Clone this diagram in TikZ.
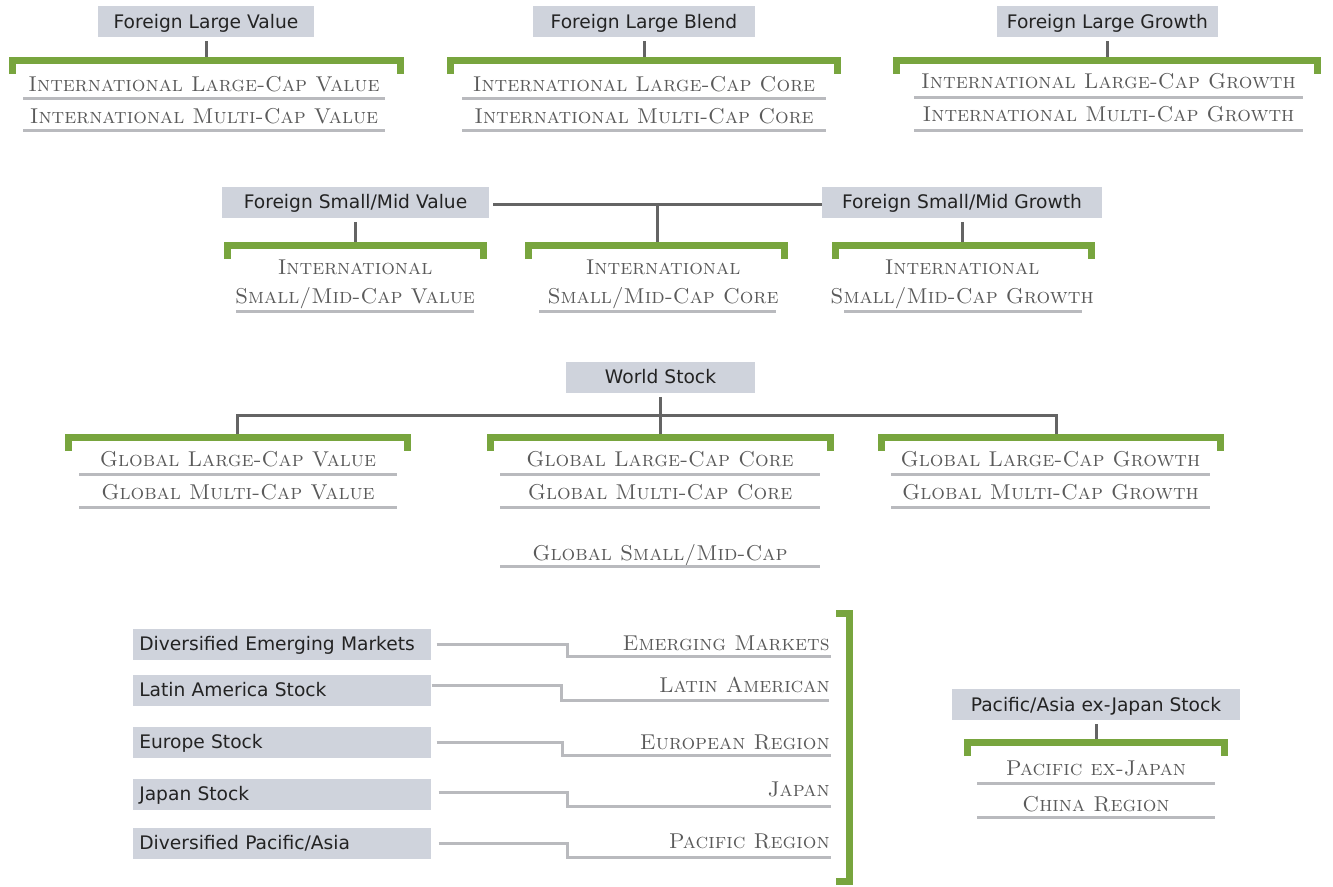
\documentclass[tikz,border=0pt]{standalone}
\usepackage{fontspec}
\newfontfamily\boxfont{DejaVu Sans}
\definecolor{boxgray}{RGB}{207,211,220}
\definecolor{boxtext}{RGB}{35,35,35}
\definecolor{sctext}{RGB}{90,90,90}
\definecolor{brkgreen}{RGB}{120,165,62}
\definecolor{conngray}{RGB}{100,100,100}
\definecolor{linegray}{RGB}{185,186,190}

\tikzset{
  graybox/.style={fill=boxgray, inner sep=0pt, text height=12.8pt, text depth=3pt,
    minimum height=23.25pt, font=\boxfont\fontsize{14}{16}\selectfont, text=boxtext},
  leftbox/.style={graybox, anchor=west, text width=214.5pt, align=left, inner xsep=4.5pt},
  sclabel/.style={inner sep=0pt, anchor=base, font=\fontsize{16.1}{19}\selectfont\scshape, text=sctext},
  rlabel/.style={sclabel, anchor=base east},
  conn/.style={draw=conngray, line width=2.25pt},
  uline/.style={draw=linegray, line width=2.25pt},
  lconn/.style={uline, line join=miter},
  brk/.style={draw=brkgreen, line width=5.25pt, line join=miter},
}

% green bracket: name, left x, right x, y of top bar, y of tick ends
\newcommand\greenbracket[5]{%
  \draw[brk] ({#2+3.5},#5) -- ({#2+3.5},#4) -- ({#3-3.5},#4) -- ({#3-3.5},#5);
  \coordinate (#1) at ({(#2+#3)/2},{#4-3.5});}
% grey rule under a category name: left x, right x, y
\newcommand\underrule[3]{\draw[uline] (#1,#3) -- (#2,#3);}

\begin{document}
\begin{tikzpicture}[x=0.75pt,y=-0.75pt]
\useasboundingbox (0,0) rectangle (1333,886);

% ---------- foreign large ----------
\node[graybox, minimum width=162pt]    (flv) at (206,21.5)   {Foreign Large Value};
\node[graybox, minimum width=166.5pt]  (flb) at (644,21.5)   {Foreign Large Blend};
\node[graybox, minimum width=165.75pt] (flg) at (1107.5,21.5) {Foreign Large Growth};

\greenbracket{b1}{9}{404}{60.5}{74}
\greenbracket{b2}{447}{841}{60.5}{74}
\greenbracket{b3}{893}{1321}{60.5}{74}

\draw[conn, shorten <=3pt] (flv) -- (flv |- b1);
\draw[conn, shorten <=3pt] (flb) -- (flb |- b2);
\draw[conn, shorten <=3pt] (flg) -- (flg |- b3);

\node[sclabel] (ilv) at (204,91)    {International Large-Cap Value};
\node[sclabel] (imv) at (204,123.5) {International Multi-Cap Value};
\underrule{23}{385}{98}
\underrule{23}{385}{130.5}
\node[sclabel] (ilc) at (644,91)    {International Large-Cap Core};
\node[sclabel] (imc) at (644,123.5) {International Multi-Cap Core};
\underrule{462}{826}{98}
\underrule{462}{826}{130.5}
\node[sclabel] (ilg) at (1108.5,88)  {International Large-Cap Growth};
\node[sclabel] (img) at (1108.5,121) {International Multi-Cap Growth};
\underrule{914}{1303}{97}
\underrule{914}{1303}{130}

% ---------- foreign small/mid ----------
\node[graybox, minimum width=200.25pt] (fsv) at (355.5,202) {Foreign Small/Mid Value};
\node[graybox, minimum width=210pt]    (fsg) at (962,202)   {Foreign Small/Mid Growth};
\coordinate (j2) at (657,204);

\greenbracket{b4}{224}{487}{245}{259}
\greenbracket{b5}{525}{788}{245}{259}
\greenbracket{b6}{832}{1095}{245}{259}

\draw[conn, shorten <=3pt] ([yshift=-1.5pt]fsv.east) -- ([yshift=-1.5pt]fsg.west);
\draw[conn, shorten <=3pt] (fsv) -- (fsv |- b4);
\draw[conn] (j2) -- (j2 |- b5);
\draw[conn, shorten <=3pt] (fsg) -- (fsg |- b6);

\node[sclabel] (isv1) at (355,274) {International};
\node[sclabel] (isv2) at (355,303) {Small/Mid-Cap Value};
\underrule{236}{474}{311}
\node[sclabel] (isc1) at (663,274) {International};
\node[sclabel] (isc2) at (663,303) {Small/Mid-Cap Core};
\underrule{539}{776}{311}
\node[sclabel] (isg1) at (962,274) {International};
\node[sclabel] (isg2) at (962,303) {Small/Mid-Cap Growth};
\underrule{844}{1082}{311}

% ---------- world stock ----------
\node[graybox, minimum width=141.75pt] (ws) at (660.5,377) {World Stock};
\coordinate (hub) at (661,415);
\coordinate (l7) at (237,433.5);
\coordinate (l9) at (1056,433.5);

\greenbracket{b7}{65}{411}{437}{451}
\greenbracket{b8}{487}{834}{437}{451}
\greenbracket{b9}{878}{1224}{437}{451}

\draw[conn, shorten <=3pt] (ws) -- (ws |- b8);
\draw[conn] (l7) |- (hub) -| (l9);

\node[sclabel] (glv) at (238,466) {Global Large-Cap Value};
\node[sclabel] (gmv) at (238,499) {Global Multi-Cap Value};
\underrule{79}{397}{474}
\underrule{79}{397}{507.5}
\node[sclabel] (glc) at (660,466) {Global Large-Cap Core};
\node[sclabel] (gmc) at (660,499) {Global Multi-Cap Core};
\underrule{500}{820}{474}
\underrule{500}{820}{507.5}
\node[sclabel] (glg) at (1050.5,466) {Global Large-Cap Growth};
\node[sclabel] (gmg) at (1050.5,499) {Global Multi-Cap Growth};
\underrule{891}{1210}{474}
\underrule{891}{1210}{507.5}
\node[sclabel] (gsm) at (660,560) {Global Small/Mid-Cap};
\underrule{500}{820}{566}

% ---------- regional ----------
\node[leftbox] (dem) at (133,644) {Diversified Emerging Markets};
\node[leftbox] (las) at (133,690) {Latin America Stock};
\node[leftbox] (es)  at (133,742) {Europe Stock};
\node[leftbox] (js)  at (133,794) {Japan Stock};
\node[leftbox] (dpa) at (133,843) {Diversified Pacific/Asia};

\node[rlabel] (tem) at (830,650) {Emerging Markets};
\node[rlabel] (tla) at (830,692) {Latin American};
\node[rlabel] (ter) at (830,749) {European Region};
\node[rlabel] (tjp) at (830,796) {Japan};
\node[rlabel] (tpr) at (830,848) {Pacific Region};

\coordinate (uem) at (831,656);
\coordinate (ula) at (829,700);
\coordinate (uer) at (831,755);
\coordinate (ujp) at (831,806);
\coordinate (upr) at (831,857);

\draw[lconn, shorten <=3.75pt] (dem.east) -- ++(136,0) |- (uem);
\draw[lconn] ([yshift=3.4pt]las.east) -- ++(130,0) |- (ula);
\draw[lconn, shorten <=3.75pt] (es.east) -- ++(131,0) |- (uer);
\draw[lconn, shorten <=5.25pt] ([yshift=1.5pt]js.east) -- ++(136,0) |- (ujp);
\draw[lconn, shorten <=5.25pt] (dpa.east) -- ++(136,0) |- (upr);

\draw[brk] (836,613.5) -- (849.5,613.5) -- (849.5,881.5) -- (836,881.5);

% ---------- pacific/asia ex-japan ----------
\node[graybox, minimum width=216pt] (pa) at (1096,704.5) {Pacific/Asia ex-Japan Stock};
\greenbracket{b10}{964}{1228}{742.5}{756}
\draw[conn, shorten <=3pt] (pa) -- (pa |- b10);

\node[sclabel] (pej) at (1096,775) {Pacific ex-Japan};
\node[sclabel] (chr) at (1096,811) {China Region};
\underrule{977}{1215}{783}
\underrule{977}{1215}{817.5}

\end{tikzpicture}
\end{document}
